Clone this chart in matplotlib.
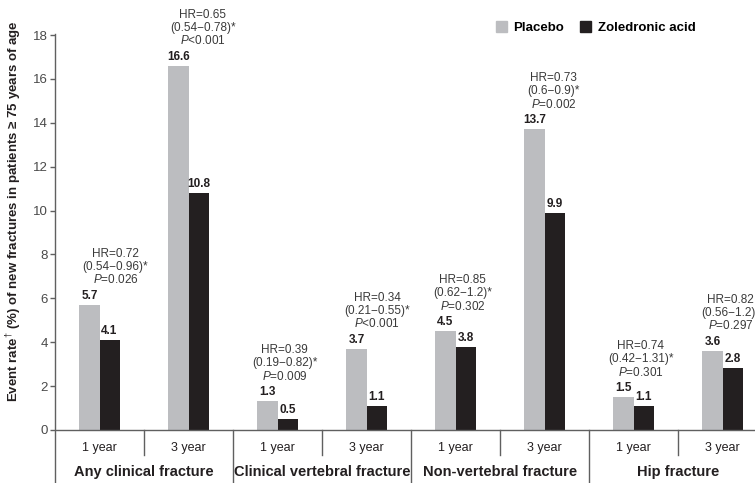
import numpy as np
import matplotlib
matplotlib.use("Agg")
import matplotlib.pyplot as plt
from matplotlib.patches import Patch

plt.rcParams['font.family'] = ['Liberation Sans', 'DejaVu Sans']
plt.rcParams['mathtext.fontset'] = 'custom'
plt.rcParams['mathtext.rm'] = 'Liberation Sans'
plt.rcParams['mathtext.it'] = 'Liberation Sans:italic'
plt.rcParams['mathtext.bf'] = 'Liberation Sans:bold'

# data
groups = ["Any clinical fracture", "Clinical vertebral fracture",
          "Non-vertebral fracture", "Hip fracture"]
periods = ["1 year", "3 year"] * 4
placebo = [5.7, 16.6, 1.3, 3.7, 4.5, 13.7, 1.5, 3.6]
zoledronic = [4.1, 10.8, 0.5, 1.1, 3.8, 9.9, 1.1, 2.8]
hr = ["0.72", "0.65", "0.39", "0.34", "0.85", "0.73", "0.74", "0.82"]
ci = ["0.54−0.96", "0.54−0.78", "0.19−0.82", "0.21−0.55",
      "0.62−1.2", "0.6−0.9", "0.42−1.31", "0.56−1.2"]
pval = ["=0.026", "<0.001", "=0.009", "<0.001",
        "=0.302", "=0.002", "=0.301", "=0.297"]

GRAY = '#bcbdc0'
BLACK = '#231f20'
AXC = '#606060'
TXT = '#3a3a3a'

W, H = 755, 483
fig = plt.figure(figsize=(W / 100, H / 100), dpi=100)
ymin, ymax = -2.42, 18.07
ax = fig.add_axes([55 / W, 0, (W - 55) / W, 1 - 33.5 / H])
ax.set_xlim(-0.5, (W - 55) / 89 - 0.5)
ax.set_ylim(ymin, ymax)

x = np.arange(len(placebo))
bw = 0.225
ax.bar(x - bw / 2, placebo, bw, color=GRAY, zorder=2)
ax.bar(x + bw / 2, zoledronic, bw, color=BLACK, zorder=2)

# value labels
for xi, p, z in zip(x, placebo, zoledronic):
    ax.annotate(f"{p}", (xi - bw / 2, p), xytext=(0, 6.5), textcoords='offset points',
                ha='center', va='center', fontsize=8.5, fontweight='bold', color=BLACK)
    ax.annotate(f"{z}", (xi + bw / 2, z), xytext=(0, 6.5), textcoords='offset points',
                ha='center', va='center', fontsize=8.5, fontweight='bold', color=BLACK)

# HR annotations
dx = [0.18, 0.16, 0.08, 0.12, 0.08, 0.1, 0.08, 0.09]
for i in range(len(x)):
    top = max(placebo[i], zoledronic[i])
    lines = [f"HR={hr[i]}", f"({ci[i]})*", f"$P${pval[i]}"]
    for s, off in zip(lines, [36.7, 27.4, 18.0]):
        ax.annotate(s, (x[i] + dx[i], top), xytext=(0, off), textcoords='offset points',
                    ha='center', va='center', fontsize=8.5, color=TXT)

# axes styling
for s in ['top', 'right', 'bottom']:
    ax.spines[s].set_visible(False)
ax.spines['left'].set_color(AXC)
ax.spines['left'].set_linewidth(1.0)
ax.axhline(0, color=AXC, lw=1.0, zorder=3)
ax.set_xticks([])
ax.set_yticks(range(0, 19, 2))
ax.tick_params(axis='y', direction='out', length=3.6, width=1.0, color=AXC,
               labelcolor='#4a4a4a', labelsize=9.5, pad=1.5)

# category separators and labels
px = 1 / 21.92
for b in [0.5, 2.5, 4.5, 6.5]:
    ax.plot([b, b], [0, -25 * px], color=AXC, lw=1.0, clip_on=False)
for b in [1.5, 3.5, 5.5]:
    ax.plot([b, b], [0, ymin], color=AXC, lw=1.0, clip_on=False)
for xi, lab in zip(x, periods):
    ax.text(xi, -18 * px, lab, ha='center', va='center', fontsize=9, color=BLACK)
for gi, g in enumerate(groups):
    ax.text(2 * gi + 0.5, -42 * px, g, ha='center', va='center', fontsize=10.5,
            fontweight='bold', color=BLACK)

fig.text(14 / W, 1 - 211 / H,
         "Event rate$^{\\dagger}$ (%) of new fractures in patients ≥ 75 years of age",
         rotation=90, ha='center', va='center', fontsize=9.5, fontweight='bold', color=BLACK)

handles = [Patch(color=GRAY, label='Placebo'), Patch(color=BLACK, label='Zoledronic acid')]
fig.legend(handles=handles, loc='center left', bbox_to_anchor=(489 / W, 1 - 27.5 / H),
           ncol=2, frameon=False, borderpad=0, handlelength=0.85, handleheight=0.85,
           handletextpad=0.5, columnspacing=1.2,
           prop={'weight': 'bold', 'size': 9.5})

fig.savefig("out.png", dpi=100)
